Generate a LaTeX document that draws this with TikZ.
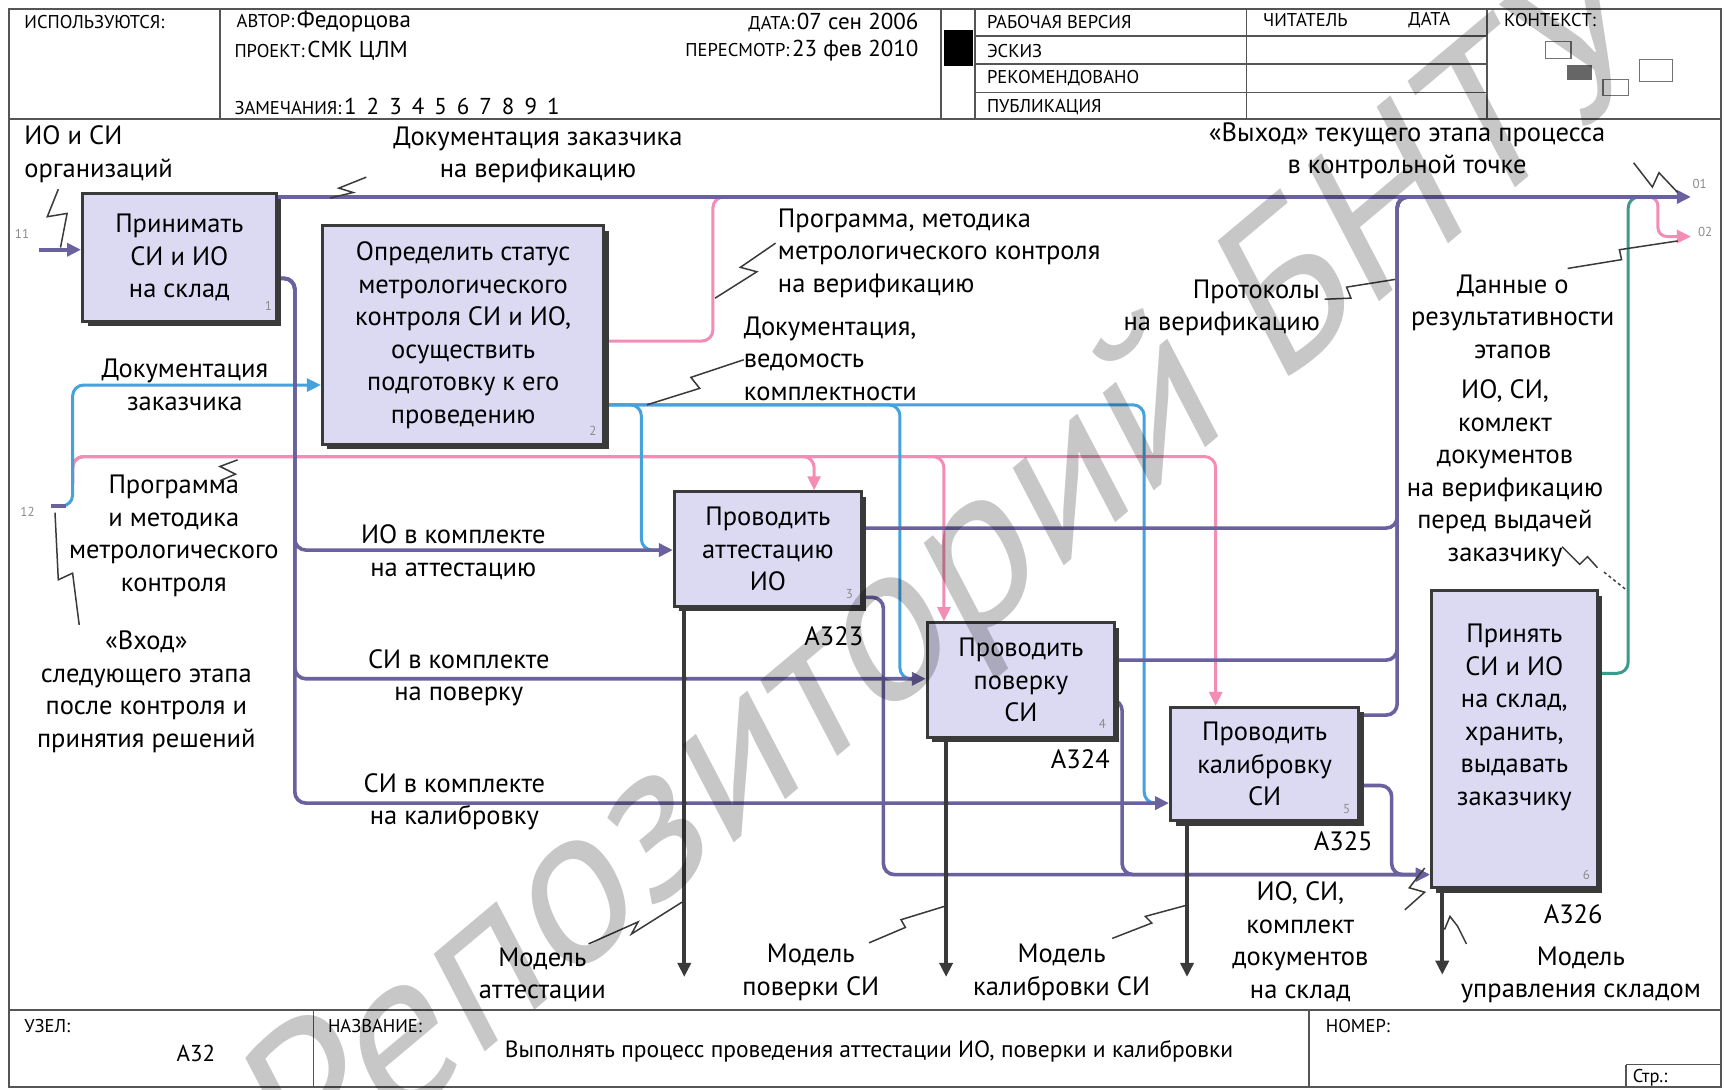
\documentclass[tikz,border=0pt]{standalone}
\usepackage{fontspec}
\setmainfont{PT Sans}
\newfontfamily\wmfont[FakeSlant=0.22]{PT Sans}
\usetikzlibrary{arrows.meta,shadows}
\pgfdeclarelayer{lines}
\pgfdeclarelayer{top}
\pgfsetlayers{lines,main,top}
\definecolor{pur}{HTML}{6A619F}
\definecolor{blu}{HTML}{45A2DC}
\definecolor{pnk}{HTML}{F38DB5}
\definecolor{tea}{HTML}{3D9A8A}
\definecolor{drk}{HTML}{3A3A3A}
\definecolor{boxf}{HTML}{DCDAF3}
\definecolor{frm}{HTML}{555555}
\newcommand\lf{\fontsize{26.5}{32.5}\selectfont}
\newcommand\hsz{\fontsize{18.5}{20}\selectfont}
\newcommand\hvz{\fontsize{23}{26}\selectfont}
\begin{document}
\begin{tikzpicture}[x=1.1pt,y=-1.1pt, >={Triangle[length=14pt,width=13pt]},
 lbl/.style={font=\lf,align=center,inner sep=0pt},
 box/.style={draw=drk,line width=3pt,fill=boxf,inner sep=0pt,font=\lf,align=center,
   drop shadow={shadow xshift=5pt,shadow yshift=-5pt,fill=drk,opacity=1}},
 pl/.style={draw=pur,line width=3.6pt,rounded corners=11pt},
 bl/.style={draw=blu,line width=3pt,rounded corners=11pt},
 kl/.style={draw=pnk,line width=3pt,rounded corners=11pt},
 tl/.style={draw=tea,line width=3pt,rounded corners=11pt},
 ml/.style={draw=drk,line width=3.6pt},
 sq/.style={draw=drk,line width=1.5pt},
 jd/.style={fill=drk,inner sep=0pt,minimum size=5pt,circle},
 num/.style={font=\fontsize{13}{14}\selectfont,text=black!45,inner sep=0pt},
 hs/.style={font=\hsz,inner sep=0pt},
 hv/.style={inner sep=0pt},
 fr/.style={draw=frm,line width=1.8pt}]
\useasboundingbox (0,0) rectangle (1568,990);
\begin{pgfonlayer}{lines}
\fill[white] (0,0) rectangle (1568,990);
\end{pgfonlayer}

% ---------- frame, header, footer
\draw[fr] (8,8) rectangle (1564,988);
\draw[fr] (8,108) -- (1564,108);
\draw[fr] (8,918) -- (1564,918);
\draw[fr] (200,8) -- (200,108);
\draw[fr] (855,8) -- (855,108);
\draw[fr] (886,8) -- (886,108);
\draw[fr] (1133,8) -- (1133,108);
\draw[fr] (1352,8) -- (1352,108);
\draw[fr] (886,33) -- (1352,33);
\draw[fr] (886,58) -- (1352,58);
\draw[fr] (886,84) -- (1352,84);
\fill[black] (858,27) rectangle (884,60);
\draw[fr] (285,918) -- (285,988);
\draw[fr] (1190,918) -- (1190,988);
\draw[fr] (1478,968) -- (1478,988);
\draw[draw=frm,line width=1pt] (1478,968) -- (1564,968);
% context mini boxes
\draw[draw=black!55,line width=1.2pt] (1405,38) rectangle (1428,53);
\fill[black!60] (1424,59) rectangle (1447,73);
\draw[draw=black!55,line width=1.2pt] (1457,72) rectangle (1480,87);
\draw[draw=black!55,line width=1.2pt] (1490,54) rectangle (1520,74);

\node[hs,anchor=west] (h1) at (22,20) {ИСПОЛЬЗУЮТСЯ:};
\node[hv,anchor=west] (h2) at (215,20) {{\hsz АВТОР:} {\hvz Федорцова}};
\node[hv,anchor=west] (h3) at (213,46) {{\hsz ПРОЕКТ:} {\hvz СМК ЦЛМ}};
\node[hv,anchor=west] (h4) at (213,97) {{\hsz ЗАМЕЧАНИЯ:} {\hvz 1\hspace{10pt}2\hspace{10pt}3\hspace{10pt}4\hspace{10pt}5\hspace{10pt}6\hspace{10pt}7\hspace{10pt}8\hspace{10pt}9\hspace{10pt}1}};
\node[hv,anchor=east] (h5) at (835,20) {{\hsz ДАТА:} {\hvz 07 сен 2006}};
\node[hv,anchor=east] (h6) at (835,46) {{\hsz ПЕРЕСМОТР:} {\hvz 23 фев 2010}};
\node[hs,anchor=west] (h7) at (897,20) {РАБОЧАЯ ВЕРСИЯ};
\node[hs,anchor=west] (h8) at (897,46) {ЭСКИЗ};
\node[hs,anchor=west] (h9) at (897,71) {РЕКОМЕНДОВАНО};
\node[hs,anchor=west] (h10) at (897,97) {ПУБЛИКАЦИЯ};
\node[hs,anchor=west] (h11) at (1148,18) {ЧИТАТЕЛЬ};
\node[hs,anchor=west] (h12) at (1280,18) {ДАТА};
\node[hs,anchor=west] (h13) at (1367,18) {КОНТЕКСТ:};

\node[hs,anchor=west] (f1) at (22,933) {УЗЕЛ:};
\node[hv,font=\hvz] (f2) at (178,958) {А32};
\node[hs,anchor=west] (f3) at (298,933) {НАЗВАНИЕ:};
\node[hv,font=\fontsize{23.5}{26}\selectfont] (f4) at (790,956) {Выполнять процесс проведения аттестации ИО, поверки и калибровки};
\node[hs,anchor=west] (f5) at (1205,933) {НОМЕР:};
\node[hs,anchor=west] (f6) at (1484,980) {Стр.:};

% ---------- boxes
\node[box,minimum width=176*1.1pt,minimum height=116*1.1pt] (b1) at (163,234) {Принимать\\СИ и ИО\\на склад};
\node[box,minimum width=256*1.1pt,minimum height=199*1.1pt] (b2) at (421,304.5) {Определить статус\\метрологического\\контроля СИ и ИО,\\осуществить\\подготовку к его\\проведению};
\node[box,minimum width=170*1.1pt,minimum height=104*1.1pt] (b3) at (698,499) {Проводить\\аттестацию\\ИО};
\node[box,minimum width=170*1.1pt,minimum height=104*1.1pt] (b4) at (928,618) {Проводить\\поверку\\СИ};
\node[box,minimum width=171*1.1pt,minimum height=103*1.1pt] (b5) at (1149.5,694.5) {Проводить\\калибровку\\СИ};
\node[box,minimum width=151*1.1pt,minimum height=270*1.1pt] (b6) at (1376.5,672) {};
\node[lbl] (b6t) at (1376.5,652) {Принять\\СИ и ИО\\на склад,\\хранить,\\выдавать\\заказчику};

\node[num] (n1) at (244,278) {1};
\node[num] (n2) at (539,392) {2};
\node[num] (n3) at (772,540) {3};
\node[num] (n4) at (1002,658) {4};
\node[num] (n5) at (1224,735) {5};
\node[num] (n6) at (1442,795) {6};
\node[num] (n11) at (20,213) {11};
\node[num] (n12) at (25,465) {12};
\node[num] (n01) at (1545,167) {01};
\node[num] (n02) at (1550,211) {02};

\node[lbl] (a3) at (758,578) {А323};
\node[lbl] (a4) at (982,690) {А324};
\node[lbl] (a5) at (1221,765) {А325};
\node[lbl] (a6) at (1430,831) {А326};

% ---------- labels
\node[lbl,anchor=west,align=left] (l1) at (22,140) {ИО и СИ\\организаций};
\node[lbl] (l2) at (489,141) {Документация заказчика\\на верификацию};
\node[lbl] (l3) at (1279,137) {«Выход» текущего этапа процесса\\в контрольной точке};
\node[lbl,anchor=west,align=left] (l4) at (707,230) {Программа, методика\\метрологического контроля\\на верификацию};
\node[lbl,anchor=west,align=left] (l5) at (676,326) {Документация,\\ведомость\\комплектности};
\node[lbl,anchor=east,align=right] (l6) at (1200,280) {Протоколы\\на верификацию};
\node[lbl] (l7) at (1375,288) {Данные о\\результативности\\этапов};
\node[lbl] (l8) at (1368,430) {ИО, СИ,\\комлект\\документов\\на верификацию\\перед выдачей\\заказчику};
\node[lbl] (l9) at (168,350) {Документация\\заказчика};
\node[lbl] (l10) at (158,487) {Программа\\и методика\\метрологического\\контроля};
\node[lbl] (l11) at (133,629) {«Вход»\\следующего этапа\\после контроля и\\принятия решений};
\node[lbl] (l12) at (412,502) {ИО в комплекте\\на аттестацию};
\node[lbl] (l13) at (417,616) {СИ в комплекте\\на поверку};
\node[lbl] (l14) at (413,729) {СИ в комплекте\\на калибровку};
\node[lbl] (l15) at (493,886) {Модель\\аттестации};
\node[lbl] (l16) at (737,884) {Модель\\поверки СИ};
\node[lbl] (l17) at (965,884) {Модель\\калибровки СИ};
\node[lbl] (l18) at (1182,856) {ИО, СИ,\\комплект\\документов\\на склад};
\node[lbl] (l19) at (1437,886) {Модель\\управления складом};

% ---------- connectors
\coordinate (i11) at (35,227);
\coordinate (i12) at (46,460);
\coordinate (o1) at (1537,179);
\coordinate (o2) at (1537,215);
\coordinate (m3) at (622,888);
\coordinate (m4) at (860,888);
\coordinate (m5) at (1079,888);
\coordinate (m6) at (1311,886);

\begin{pgfonlayer}{lines}
% pink
\draw[kl] (b2.east |- 0,310) -- (648,310) -- (648,179) -- (675,179);
\draw[kl,->] (66,440) -- (66,415) -- (740,415) -- (740,0 |- b3.north);
\draw[kl,->] (66,440) -- (66,415) -- (858,415) -- (858,0 |- b4.north);
\draw[kl,->] (66,440) -- (66,415) -- (1105,415) -- (1105,0 |- b5.north);
\draw[kl,->,rounded corners=9pt] (1490,179) -- (1507,179) -- (1507,215) -- (o2);
% blue
\draw[bl,->] (56,460) -- (66,460) -- (66,350) -- (b2.west |- 0,350);
\draw[bl] (b2.east |- 0,368) -- (583,368) -- (583,500) -- (603,500);
\draw[bl] (b2.east |- 0,368) -- (818,368) -- (818,617) -- (833,617);
\draw[bl] (b2.east |- 0,368) -- (1040,368) -- (1040,730) -- (1054,730);
% teal
\draw[tl] (b6.east |- 0,612) -- (1480,612) -- (1480,179) -- (1500,179);
% purple
\draw[pl,->] (i11) -- (b1.west |- 0,227);
\draw[pl] (i12) -- (60,460);
\draw[pl,->] (b1.east |- 0,179) -- (o1);
\draw[pl,->] (b1.east |- 0,253) -- (268,253) -- (268,500) -- (b3.west |- 0,500);
\draw[pl,->] (b1.east |- 0,253) -- (268,253) -- (268,617) -- (b4.west |- 0,617);
\draw[pl,->] (b1.east |- 0,253) -- (268,253) -- (268,730) -- (b5.west |- 0,730);
\draw[pl] (b3.east |- 0,480) -- (1270,480) -- (1270,179) -- (1300,179);
\draw[pl] (b4.east |- 0,600) -- (1270,600) -- (1270,179) -- (1300,179);
\draw[pl] (b5.east |- 0,650) -- (1270,650) -- (1270,179) -- (1300,179);
\draw[pl,->] (b3.east |- 0,543) -- (803,543) -- (803,795) -- (b6.west |- 0,795);
\draw[pl,->] (b4.east |- 0,636) -- (1020,636) -- (1020,795) -- (b6.west |- 0,795);
\draw[pl,->] (b5.east |- 0,714) -- (1265,714) -- (1265,795) -- (b6.west |- 0,795);
% mechanisms
\draw[ml,->] (622,0 |- b3.south) -- (m3);
\draw[ml,->] (860,0 |- b4.south) -- (m4);
\draw[ml,->] (1079,0 |- b5.south) -- (m5);
\draw[ml,->] (1311,0 |- b6.south) -- (m6);
% junction dots
\node[jd] (j1) at (622,617) {};
\node[jd] (j2) at (622,730) {};
\node[jd] (j3) at (860,730) {};
\node[jd] (j4) at (860,795) {};
\node[jd] (j5) at (1079,795) {};
\end{pgfonlayer}

% ---------- squiggles
\draw[sq] (53,172) -- (43,197) -- (61,194) -- (55,225);
\draw[sq] (333,161) -- (308,171) -- (321,175) -- (300,180);
\draw[sq] (705,221) -- (673,243) -- (688,247) -- (650,271);
\draw[sq] (676,327) -- (628,343) -- (636,353) -- (588,368);
\draw[sq] (1204,272) -- (1228,271) -- (1224,261) -- (1268,254);
\draw[sq] (1425,244) -- (1474,236) -- (1472,227) -- (1525,219);
\draw[sq] (1485,148) -- (1502,170) -- (1508,157) -- (1525,175);
\draw[sq] (1420,497) -- (1436,513) -- (1443,506) -- (1452,516);
\draw[sq,dashed] (1458,520) -- (1478,536);
\draw[sq] (216,418) -- (200,424) -- (214,431) -- (200,437);
\draw[sq] (50,466) -- (53,527) -- (66,521) -- (72,568);
\draw[sq] (535,858) -- (580,838) -- (574,849) -- (620,820);
\draw[sq] (790,857) -- (823,843) -- (819,836) -- (858,824);
\draw[sq] (1011,853) -- (1047,839) -- (1041,833) -- (1078,823);
\draw[sq] (1295,789) -- (1281,807) -- (1295,811) -- (1277,827);
\draw[sq] (1313,845) -- (1318,833) -- (1325,842) -- (1333,858);

% ---------- watermark
\begin{pgfonlayer}{top}
\node[rotate=40,text=black,opacity=0.22,font=\fontsize{215}{215}\wmfont,inner sep=0pt] (wm) at (860,540) {Репозиторий БНТУ};
\end{pgfonlayer}
\end{tikzpicture}
\end{document}
